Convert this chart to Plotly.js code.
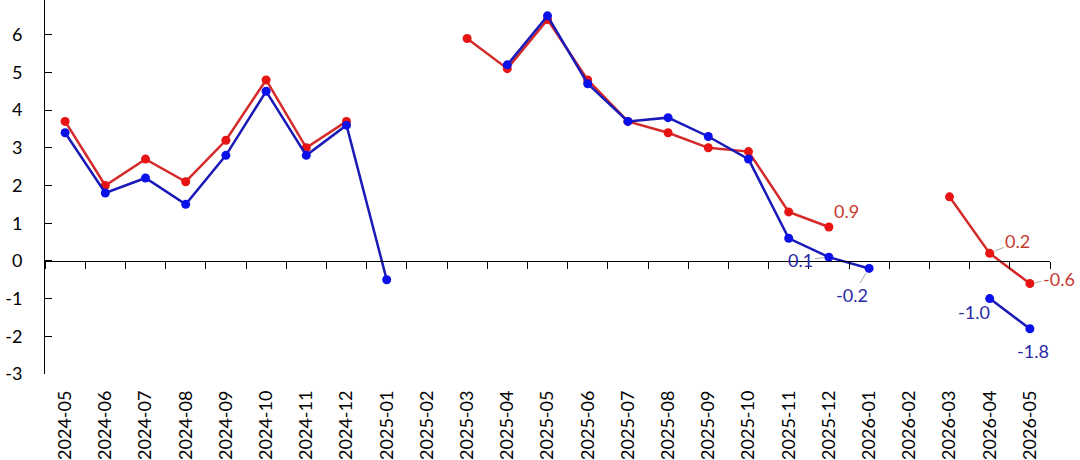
<!DOCTYPE html>
<html>
<head>
<meta charset="utf-8">
<script src="https://cdn.plot.ly/plotly-3.0.1.min.js"></script>
<style>
html,body{margin:0;padding:0;background:#fff;overflow:hidden;}
#chart{width:1080px;height:466px;margin-top:-6px;}
</style>
</head>
<body>
<div id="chart"></div>
<script>
const months = ["2024-05","2024-06","2024-07","2024-08","2024-09","2024-10","2024-11","2024-12",
  "2025-01","2025-02","2025-03","2025-04","2025-05","2025-06","2025-07","2025-08","2025-09","2025-10",
  "2025-11","2025-12","2026-01","2026-02","2026-03","2026-04","2026-05"];
const redSeries = [3.7,2.0,2.7,2.1,3.2,4.8,3.0,3.7,
  null,null,5.9,5.1,6.4,4.8,3.7,3.4,3.0,2.9,
  1.3,0.9,null,null,1.7,0.2,-0.6];
const blueSeries = [3.4,1.8,2.2,1.5,2.8,4.5,2.8,3.6,
  -0.5,null,null,5.2,6.5,4.7,3.7,3.8,3.3,2.7,
  0.6,0.1,-0.2,null,null,-1.0,-1.8];
const yTicks = [-3,-2,-1,0,1,2,3,4,5,6,7];

const FONT = "Lato, 'Open Sans', sans-serif";
const redLine = "#d42a2a", redMarker = "#e81414", redText = "#c83a32";
const blueLine = "#1a1ab8", blueMarker = "#0a10e8", blueText = "#2a2aa6";

const traces = [
  {x: months, y: redSeries, type: "scatter", mode: "lines+markers", connectgaps: false,
   line: {color: redLine, width: 2.5}, marker: {color: redMarker, size: 9}, hoverinfo: "x+y"},
  {x: months, y: blueSeries, type: "scatter", mode: "lines+markers", connectgaps: false,
   line: {color: blueLine, width: 2.5}, marker: {color: blueMarker, size: 9}, hoverinfo: "x+y"},
  {x: months, y: months.map(() => null), xaxis: "x2", type: "scatter", mode: "lines",
   showlegend: false, hoverinfo: "skip"}
];

function lbl(i, series, color, ax, ay, leader) {
  const v = series[i];
  return {
    x: months[i], y: v, xref: "x", yref: "y",
    text: v.toFixed(1), font: {family: FONT, size: 18, color: color},
    showarrow: true, ax: ax, ay: ay, axref: "pixel", ayref: "pixel",
    arrowhead: 0, arrowwidth: 1, standoff: 5,
    arrowcolor: leader ? "#a8a8a8" : "rgba(0,0,0,0)"
  };
}

const annotations = [
  lbl(19, redSeries, redText, 18, -16, false),
  lbl(19, blueSeries, blueText, -28, 3, true),
  lbl(20, blueSeries, blueText, -17, 27, true),
  lbl(23, redSeries, redText, 28, -12, true),
  lbl(24, redSeries, redText, 29, -5, true),
  lbl(23, blueSeries, blueText, -16, 13, false),
  lbl(24, blueSeries, blueText, 3, 22, false)
];

const layout = {
  width: 1080, height: 466,
  margin: {l: 45, r: 30, t: 3, b: 86},
  paper_bgcolor: "#fff", plot_bgcolor: "#fff",
  showlegend: false,
  font: {family: FONT, size: 18, color: "#000"},
  xaxis: {
    type: "category", categoryorder: "array", categoryarray: months,
    range: [-0.5, months.length - 0.5],
    anchor: "free", position: 0.3,
    showline: true, linecolor: "#000", linewidth: 1,
    ticks: "outside", tickson: "boundaries", ticklen: 7, tickcolor: "#000", tickwidth: 1,
    showticklabels: false, showgrid: false, zeroline: false, fixedrange: true
  },
  xaxis2: {
    type: "category", categoryorder: "array", categoryarray: months,
    overlaying: "x", matches: "x", anchor: "y", side: "bottom",
    range: [-0.5, months.length - 0.5],
    showline: false, ticks: "", showgrid: false, zeroline: false,
    tickangle: -90, ticklabelstandoff: 12,
    tickfont: {family: FONT, size: 18, color: "#000"}
  },
  yaxis: {
    range: [-3, 7], tickvals: yTicks, ticktext: yTicks.map(String),
    showline: true, linecolor: "#000", linewidth: 1,
    ticks: "inside", ticklen: 7, tickcolor: "#000", tickwidth: 1,
    showgrid: false, zeroline: false, ticklabelstandoff: 18,
    tickfont: {family: FONT, size: 18, color: "#000"}, fixedrange: true
  },
  annotations: annotations
};

Plotly.newPlot("chart", traces, layout, {displayModeBar: false, staticPlot: true});
</script>
</body>
</html>
